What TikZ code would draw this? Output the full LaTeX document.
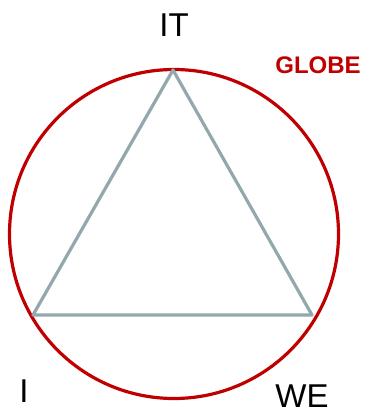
\documentclass[tikz,border=0pt]{standalone}
\usepackage{fontspec}
\setmainfont{Liberation Sans}
\definecolor{globered}{HTML}{C00000}
\definecolor{trigray}{HTML}{92A8AC}
\begin{document}
\begin{tikzpicture}[x=1pt,y=-1pt,
  lbl/.style={font=\fontsize{33}{33}\selectfont, text=black, inner sep=0pt},
  ring/.style={draw=globered, line width=3.2pt},
  tri/.style={draw=trigray, line width=3.2pt, line join=round}]
\useasboundingbox (0,0) rectangle (365,412);
\coordinate (c) at (174,234);
\draw[ring] (c) circle[radius=164.5];
\coordinate (top) at (173,70);
\coordinate (bl) at (33,315);
\coordinate (br) at (312,315);
\draw[tri] (top) -- (bl) -- (br) -- cycle;
\node[lbl] (it) at (174,25) {IT};
\node[lbl] (i) at (24,391) {I};
\node[lbl] (we) at (302,396) {WE};
\node[font=\fontsize{24}{24}\bfseries, text=globered, inner sep=0pt] (globe) at (318,65) {GLOBE};
\end{tikzpicture}
\end{document}
